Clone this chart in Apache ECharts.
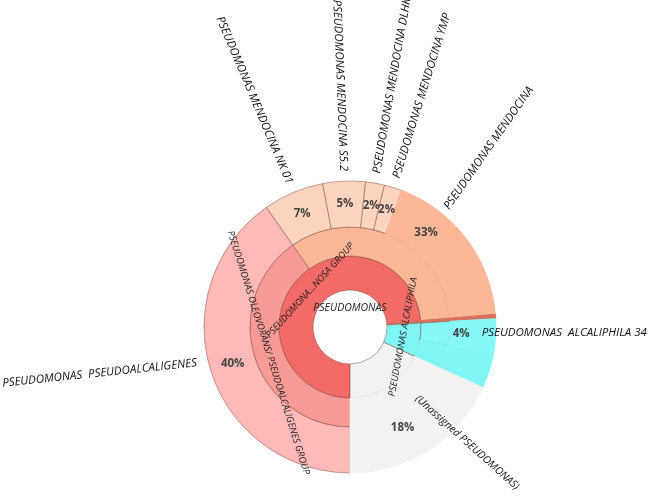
<!DOCTYPE html>
<html>
<head>
<meta charset="utf-8">
<script src="https://cdn.jsdelivr.net/npm/echarts@6/dist/echarts.min.js"></script>
<style>html,body{margin:0;background:#fff}#main{width:650px;height:497px}</style>
</head>
<body>
<div id="main"></div>
<script type="text/javascript">
    // taxa and their share of reads (%)
    var rootName = 'PSEUDOMONAS';
    var groupName = 'PSEUDOMONA...NOSA GROUP';
    var subgroupName = 'PSEUDOMONAS OLEOVORANS/ PSEUDOALCALIGENES GROUP';
    var pseudoName = 'PSEUDOMONAS  PSEUDOALCALIGENES';
    var pseudoValue = 40.3;
    var mendocinaName = 'PSEUDOMONAS MENDOCINA';
    var mendocinaOwn = 17.8;
    var strainNames = ['PSEUDOMONAS MENDOCINA NK 01', 'PSEUDOMONAS MENDOCINA S5.2', 'PSEUDOMONAS MENDOCINA DLHK', 'PSEUDOMONAS MENDOCINA YMP'];
    var strainValues = [6.7, 4.7, 2.1, 2.0];
    var sliverValue = 0.5;
    var alcaliphilaName = 'PSEUDOMONAS ALCALIPHILA';
    var alcaliphilaOwn = 3.8;
    var alc34Name = 'PSEUDOMONAS  ALCALIPHILA 34';
    var alc34Value = 3.9;
    var unassignedName = '(Unassigned PSEUDOMONAS)';
    var unassignedValue = 18.2;

    var colors = {
        group: '#f36b66', subgroup: '#f89a95', pseudo: '#feb9b8',
        mendocina: '#fcb796', strain: '#fdd5be', sliver: '#d9705e',
        alcaliphila: '#7ff6f4', alc34: '#86f8f7', unassigned: '#f2f2f1'
    };
    var font = 'Open Sans';

    // shifts a label "up" (in its own frame) by s px: bottom-aligned line of height 2s
    function lift(s) { return {verticalAlign: 'bottom', lineHeight: 2 * s}; }

    function pctLab(v, extra) {
        return Object.assign({show: true, formatter: Math.round(v) + '%', rotate: 0, fontSize: 11.5,
            fontWeight: 'bold', color: '#444', fontFamily: font}, extra || {});
    }
    // outer names: anchored from the ring's inner radius (r0 = 100) plus distance
    function nameLab(extra) {
        return Object.assign({show: true, position: 'inside', align: 'left', rotate: 'radial', distance: 56,
            fontSize: 11.5, fontStyle: 'italic', color: '#111', fontFamily: font}, extra || {});
    }
    function ringLab(extra) {
        return Object.assign({show: true, rotate: 'tangential', fontSize: 9.5, fontStyle: 'italic',
            color: '#222', fontFamily: font}, extra || {});
    }

    // names=false -> coloured pieces + percentages, names=true -> transparent copy carrying the outer names
    function build(names) {
        function piece(name, value, color, label, children, filler) {
            var style = names ? {color: 'rgba(0,0,0,0)', borderWidth: 0}
                : (filler ? {color: color, borderColor: color} : {color: color});
            var p = {name: name, itemStyle: style, label: (label && label[names ? 1 : 0]) || {show: false}};
            if (value != null) p.value = value;
            if (children) p.children = children;
            return p;
        }
        // krona draws a taxon's own reads out to the rim: repeat the piece until ring 4
        function toEdge(name, value, color, depth, label) {
            var p = piece(name, value, color, depth === 4 ? label : null, null, true);
            if (depth < 4) p.children = [toEdge(name, value, color, depth + 1, label)];
            return p;
        }

        var mendTotal = mendocinaOwn;
        var kids = strainNames.map(function (s, i) {
            mendTotal += strainValues[i];
            return piece(s, strainValues[i], colors.strain, [pctLab(strainValues[i]), nameLab()]);
        });
        // padding / lift nudge a few labels to where krona put them
        kids.push(toEdge(mendocinaName, mendocinaOwn, colors.mendocina, 4,
            [pctLab(mendTotal, Object.assign({padding: [0, 44, 0, 0]}, lift(20))),
             nameLab(Object.assign({rotate: 55, padding: [0, 0, 0, 4]}, lift(37)))]));
        var mend = piece(mendocinaName, null, colors.mendocina, null, kids);

        var pseudo = piece(pseudoName, pseudoValue, colors.pseudo,
            [pctLab(pseudoValue), nameLab(Object.assign({rotate: 6, distance: 50, padding: [0, 9, 0, 0]}, lift(10)))]);
        var oleo = piece(subgroupName, null, colors.subgroup, [ringLab(), null], [pseudo]);
        var group = piece(groupName, null, colors.group, [ringLab(), null], [oleo, mend]);

        var sliver = toEdge('', sliverValue, colors.sliver, 2, null);

        var alc34 = piece(alc34Name, alc34Value, colors.alc34, null,
            [toEdge(alc34Name, alc34Value, colors.alc34, 4,
                [pctLab(alc34Value, {align: 'left', distance: 3}),
                 nameLab(Object.assign({rotate: 0, distance: 32}, lift(3)))])]);
        var alcRest = toEdge('', alcaliphilaOwn, colors.alcaliphila, 3, null);
        var alc = piece(alcaliphilaName, null, colors.alcaliphila, [ringLab(), null], [alc34, alcRest]);

        var unassigned = piece(unassignedName, unassignedValue, colors.unassigned, null,
            [toEdge(unassignedName, unassignedValue, colors.unassigned, 3,
                [pctLab(unassignedValue, Object.assign({padding: [0, 28, 0, 0]}, lift(3))),
                 nameLab(Object.assign({rotate: -42, distance: -3, fontSize: 10.5, padding: [0, 0, 0, 3]}, lift(18)))])]);

        var root = piece(rootName, null, '#ffffff',
            [{show: true, rotate: 0, fontSize: 10.5, fontStyle: 'italic', color: '#222', fontFamily: font}, null],
            [group, sliver, alc, unassigned]);
        root.itemStyle.borderWidth = 0;
        return [root];
    }

    var levels = [{}, {r0: 0, r: 37}, {r0: 37, r: 71}, {r0: 71, r: 100}, {r0: 100, r: 146}];

    var myChart = echarts.init(document.getElementById('main'));
    myChart.setOption({
        animation: false,
        series: [
            {
                type: 'sunburst',
                center: [350, 327],
                startAngle: 270,
                sort: null,
                nodeClick: false,
                levels: levels,
                itemStyle: {borderWidth: 1, borderColor: 'rgba(120,60,50,0.45)'},
                emphasis: {disabled: true},
                data: build(false)
            },
            {
                type: 'sunburst',
                center: [350, 327],
                startAngle: 270,
                sort: null,
                nodeClick: false,
                silent: true,
                levels: levels,
                itemStyle: {borderWidth: 0},
                emphasis: {disabled: true},
                data: build(true)
            }
        ]
    });
</script>
</body>
</html>
